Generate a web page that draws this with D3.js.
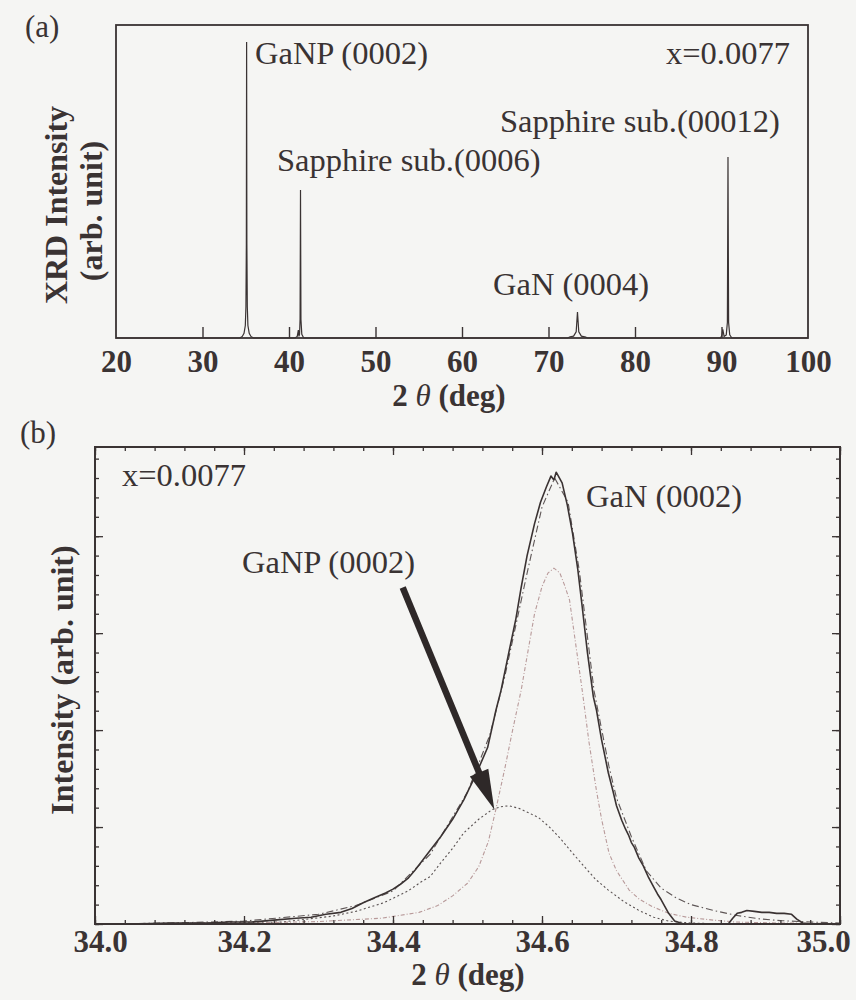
<!DOCTYPE html>
<html>
<head>
<meta charset="utf-8">
<script src="https://cdn.jsdelivr.net/npm/d3@7"></script>
<style>
  html, body { margin: 0; padding: 0; background: #f5f5f3; }
  svg { display: block; }
  text { font-family: "Liberation Serif", "Times New Roman", serif; fill: #3a3333; }
</style>
</head>
<body>
<svg id="fig" width="856" height="1000"></svg>
<script>
// ---------- (a) wide-range XRD scan, [2θ (deg), intensity (arb.)] ----------
const scanA = [
  [20, 0], [34.3, 0], [34.6, 0.005], [34.8, 0.015], [34.95, 0.04], [35.02, 0.10], [35.07, 0.30],
  [35.1, 0.946], [35.13, 0.30], [35.18, 0.10], [35.25, 0.04], [35.4, 0.015], [35.6, 0.005], [35.9, 0],
  [40.7, 0], [40.95, 0.005], [41.08, 0.025], [41.15, 0.005], [41.22, 0.012], [41.28, 0.06],
  [41.33, 0.473], [41.38, 0.06], [41.48, 0.012], [41.7, 0],
  [72.2, 0], [72.5, 0.004], [72.9, 0.006], [73.2, 0.02], [73.35, 0.083], [73.5, 0.02], [73.8, 0.006], [74.3, 0.003], [74.5, 0],
  [89.9, 0], [90.05, 0.01], [90.15, 0.028], [90.3, 0.005], [90.55, 0.01], [90.68, 0.05],
  [90.75, 0.578], [90.82, 0.05], [90.95, 0.01], [91.2, 0], [100, 0]
];
const ticksA = [20, 30, 40, 50, 60, 70, 80, 90, 100];
const domainA = [20, 100];

// ---------- (b) (0002) region: measured scan and fitted components ----------
const measuredB = [
  [34.00, 0.00], [34.05, 0.00], [34.10, 0.01], [34.15, 0.01], [34.18, 0.02], [34.21, 0.02], [34.24, 0.04],
  [34.27, 0.06], [34.29, 0.07], [34.31, 0.10], [34.33, 0.12], [34.345, 0.16], [34.36, 0.22], [34.375, 0.27],
  [34.39, 0.32], [34.40, 0.36], [34.41, 0.41], [34.42, 0.47], [34.43, 0.56], [34.44, 0.66], [34.45, 0.76],
  [34.464, 0.90], [34.48, 1.08], [34.495, 1.28], [34.51, 1.52], [34.527, 1.82], [34.538, 2.20], [34.545, 2.41],
  [34.556, 2.82], [34.565, 3.15], [34.572, 3.47], [34.58, 3.80], [34.59, 4.13], [34.598, 4.35], [34.606, 4.51],
  [34.612, 4.62], [34.616, 4.58], [34.619, 4.66], [34.622, 4.62], [34.627, 4.55], [34.634, 4.32], [34.641, 4.03],
  [34.648, 3.66], [34.654, 3.27], [34.661, 2.80], [34.669, 2.34], [34.673, 2.21], [34.68, 1.90], [34.689, 1.56],
  [34.695, 1.38], [34.70, 1.22], [34.707, 1.07], [34.712, 0.98], [34.716, 0.92], [34.72, 0.84], [34.724, 0.79],
  [34.73, 0.68], [34.736, 0.60], [34.743, 0.48], [34.75, 0.38], [34.755, 0.31], [34.76, 0.25], [34.765, 0.18],
  [34.77, 0.11], [34.778, 0.03], [34.79, 0.00], [34.85, 0.00], [34.856, 0.06], [34.862, 0.11], [34.868, 0.12],
  [34.875, 0.14], [34.885, 0.13], [34.895, 0.12], [34.905, 0.12], [34.915, 0.11], [34.925, 0.11], [34.935, 0.10],
  [34.942, 0.05], [34.95, 0.01], [34.96, 0.00], [35.00, 0.00]
];
const fitTotalB = [
  [34.00, 0.00], [34.10, 0.01], [34.20, 0.03], [34.30, 0.10], [34.35, 0.19], [34.40, 0.34], [34.45, 0.72],
  [34.50, 1.36], [34.53, 1.95], [34.55, 2.55], [34.58, 3.62], [34.60, 4.30], [34.617, 4.60], [34.635, 4.35],
  [34.65, 3.65], [34.67, 2.40], [34.69, 1.62], [34.70, 1.30], [34.72, 0.90], [34.74, 0.55], [34.76, 0.37],
  [34.78, 0.27], [34.80, 0.20], [34.83, 0.14], [34.86, 0.09], [34.89, 0.055], [34.92, 0.035], [34.96, 0.02],
  [35.00, 0.01]
];
const fitGaNB = [
  [34.00, 0.00], [34.20, 0.01], [34.30, 0.025], [34.385, 0.06], [34.435, 0.12], [34.46, 0.19], [34.48, 0.29],
  [34.50, 0.42], [34.515, 0.59], [34.528, 0.85], [34.538, 1.18], [34.55, 1.60], [34.56, 1.98], [34.572, 2.41],
  [34.582, 2.85], [34.59, 3.20], [34.60, 3.48], [34.608, 3.62], [34.616, 3.67], [34.624, 3.62], [34.63, 3.50],
  [34.637, 3.34], [34.645, 2.90], [34.654, 2.41], [34.663, 1.88], [34.673, 1.38], [34.68, 1.08], [34.69, 0.73],
  [34.70, 0.55], [34.717, 0.35], [34.73, 0.26], [34.748, 0.18], [34.77, 0.11], [34.794, 0.07], [34.83, 0.04],
  [34.86, 0.02], [34.92, 0.01], [35.00, 0.005]
];
const fitGaNPB = [
  [34.00, 0.00], [34.15, 0.01], [34.25, 0.02], [34.318, 0.08], [34.35, 0.13], [34.388, 0.22], [34.42, 0.34],
  [34.437, 0.43], [34.45, 0.49], [34.464, 0.63], [34.48, 0.78], [34.495, 0.94], [34.515, 1.08], [34.533, 1.18],
  [34.545, 1.21], [34.556, 1.22], [34.57, 1.19], [34.595, 1.10], [34.61, 1.00], [34.626, 0.87], [34.64, 0.74],
  [34.657, 0.59], [34.672, 0.46], [34.689, 0.35], [34.71, 0.23], [34.73, 0.14], [34.75, 0.07], [34.77, 0.03],
  [34.80, 0.01], [34.85, 0.00], [35.00, 0.00]
];
const ticksBX = [34.0, 34.2, 34.4, 34.6, 34.8, 35.0];
const domainBX = [34.0, 35.0];
const domainBY = [0, 4.92];
// arrow pointing at the GaNP component peak: [from, to] in (2θ, intensity)
const arrowGaNP = [[34.413, 3.47], [34.536, 1.18]];

const ink = "#3a3333";
const svg = d3.select("#fig");
const noteSize = 32.5;

// ================= panel (a) =================
const A = { left: 116, right: 808, top: 25, bottom: 338 };
const xA = d3.scaleLinear().domain(domainA).range([A.left, A.right]);
const yA = d3.scaleLinear().domain([0, 1]).range([A.bottom, A.top]);
const gA = svg.append("g");

gA.append("path")
  .datum(scanA)
  .attr("fill", "none").attr("stroke", ink).attr("stroke-width", 1.2)
  .attr("d", d3.line().x(d => xA(d[0])).y(d => yA(d[1])));

const axA = gA.append("g")
  .attr("transform", `translate(0,${A.bottom})`)
  .call(d3.axisBottom(xA).tickValues(ticksA).tickFormat(d3.format("d"))
    .tickSizeInner(-11).tickSizeOuter(0).tickPadding(12));
axA.select(".domain").remove();
axA.selectAll(".tick line").attr("stroke", ink).attr("stroke-width", 1.4);
axA.selectAll(".tick text").attr("font-size", 31).attr("font-weight", "bold")
  .attr("font-family", "Liberation Serif, serif").attr("fill", ink);
axA.selectAll(".tick").filter(d => d === domainA[0] || d === domainA[1]).select("line").remove();

gA.append("rect")
  .attr("x", A.left).attr("y", A.top).attr("width", A.right - A.left).attr("height", A.bottom - A.top)
  .attr("fill", "none").attr("stroke", ink).attr("stroke-width", 1.8);

gA.append("text").attr("x", 25).attr("y", 37).attr("font-size", 31).text("(a)");
gA.append("text").attr("x", 255).attr("y", 64).attr("font-size", noteSize).text("GaNP (0002)");
gA.append("text").attr("x", 790).attr("y", 64).attr("font-size", noteSize).attr("text-anchor", "end").text("x=0.0077");
gA.append("text").attr("x", 277).attr("y", 171).attr("font-size", noteSize).text("Sapphire sub.(0006)");
gA.append("text").attr("x", 500).attr("y", 132).attr("font-size", noteSize).text("Sapphire sub.(00012)");
gA.append("text").attr("x", 493).attr("y", 295).attr("font-size", noteSize).text("GaN (0004)");

gA.append("text").attr("transform", "translate(67,205) rotate(-90)")
  .attr("text-anchor", "middle").attr("font-size", 32).attr("font-weight", "bold").text("XRD Intensity");
gA.append("text").attr("transform", "translate(102,211) rotate(-90)")
  .attr("text-anchor", "middle").attr("font-size", 32).attr("font-weight", "bold").text("(arb. unit)");

function thetaLabel(g, x, y) {
  const t = g.append("text").attr("x", x).attr("y", y).attr("text-anchor", "middle")
    .attr("font-size", 31).attr("font-weight", "bold");
  t.append("tspan").text("2 ");
  t.append("tspan").attr("font-style", "italic").attr("font-weight", "normal").text("θ");
  t.append("tspan").text(" (deg)");
}
thetaLabel(gA, 449, 406);

// ================= panel (b) =================
const B = { left: 95, right: 840, top: 447, bottom: 924 };
const xB = d3.scaleLinear().domain(domainBX).range([B.left, B.right]);
const yB = d3.scaleLinear().domain(domainBY).range([B.bottom, B.top]);
const gB = svg.append("g");
const lineB = d3.line().x(d => xB(d[0])).y(d => yB(d[1]));

gB.append("path").datum(fitGaNPB)
  .attr("fill", "none").attr("stroke", "#5a5252").attr("stroke-width", 1.1)
  .attr("stroke-dasharray", "2,2.5").attr("d", lineB);
gB.append("path").datum(fitGaNB)
  .attr("fill", "none").attr("stroke", "#b89a9a").attr("stroke-width", 1.1)
  .attr("stroke-dasharray", "4,2,1,2").attr("d", lineB);
gB.append("path").datum(fitTotalB)
  .attr("fill", "none").attr("stroke", "#5e5656").attr("stroke-width", 1.1)
  .attr("stroke-dasharray", "7,3,1.5,3").attr("d", lineB);
gB.append("path").datum(measuredB)
  .attr("fill", "none").attr("stroke", "#3a3232").attr("stroke-width", 1.6)
  .attr("stroke-linejoin", "round").attr("d", lineB);

// frame ticks (inward) on all four sides
const minorX = d3.range(34.0, 35.0001, 0.04).map(v => +v.toFixed(2));
const majorY = [0, 1, 2, 3, 4];
const minorY = d3.range(0, 4.9, 0.2).map(v => +v.toFixed(1));

function styleAxis(sel) {
  sel.select(".domain").remove();
  sel.selectAll(".tick line").attr("stroke", ink).attr("stroke-width", 1.3);
}
// bottom: labels + major + minor
const axBx = gB.append("g").attr("transform", `translate(0,${B.bottom})`)
  .call(d3.axisBottom(xB).tickValues(ticksBX).tickFormat(d3.format(".1f"))
    .tickSizeInner(-8).tickSizeOuter(0).tickPadding(6));
styleAxis(axBx);
axBx.selectAll(".tick text").attr("font-size", 31).attr("font-weight", "bold")
  .attr("font-family", "Liberation Serif, serif").attr("fill", ink)
  .attr("dx", d => d === domainBX[0] ? 5 : d === domainBX[1] ? -17 : 0);
gB.append("g").attr("transform", `translate(0,${B.bottom})`)
  .call(d3.axisBottom(xB).tickValues(minorX).tickFormat("").tickSizeInner(-4).tickSizeOuter(0)).call(styleAxis);
// top
gB.append("g").attr("transform", `translate(0,${B.top})`)
  .call(d3.axisTop(xB).tickValues(ticksBX).tickFormat("").tickSizeInner(-8).tickSizeOuter(0)).call(styleAxis);
gB.append("g").attr("transform", `translate(0,${B.top})`)
  .call(d3.axisTop(xB).tickValues(minorX).tickFormat("").tickSizeInner(-4).tickSizeOuter(0)).call(styleAxis);
// left
gB.append("g").attr("transform", `translate(${B.left},0)`)
  .call(d3.axisLeft(yB).tickValues(majorY).tickFormat("").tickSizeInner(-8).tickSizeOuter(0)).call(styleAxis);
gB.append("g").attr("transform", `translate(${B.left},0)`)
  .call(d3.axisLeft(yB).tickValues(minorY).tickFormat("").tickSizeInner(-4).tickSizeOuter(0)).call(styleAxis);
// right
gB.append("g").attr("transform", `translate(${B.right},0)`)
  .call(d3.axisRight(yB).tickValues(majorY).tickFormat("").tickSizeInner(-8).tickSizeOuter(0)).call(styleAxis);
gB.append("g").attr("transform", `translate(${B.right},0)`)
  .call(d3.axisRight(yB).tickValues(minorY).tickFormat("").tickSizeInner(-4).tickSizeOuter(0)).call(styleAxis);

gB.append("rect")
  .attr("x", B.left).attr("y", B.top).attr("width", B.right - B.left).attr("height", B.bottom - B.top)
  .attr("fill", "none").attr("stroke", ink).attr("stroke-width", 2);

// arrow to the GaNP (0002) component
{
  const [p0, p1] = arrowGaNP.map(d => [xB(d[0]), yB(d[1])]);
  const dx = p1[0] - p0[0], dy = p1[1] - p0[1];
  const len = Math.hypot(dx, dy), ux = dx / len, uy = dy / len;
  const headLen = 40, headHalf = 10;
  const base = [p1[0] - ux * headLen, p1[1] - uy * headLen];
  gB.append("line")
    .attr("x1", p0[0]).attr("y1", p0[1]).attr("x2", base[0] + ux * 4).attr("y2", base[1] + uy * 4)
    .attr("stroke", "#2e2828").attr("stroke-width", 6.5);
  gB.append("path")
    .attr("d", `M${p1[0]},${p1[1]} L${base[0] - uy * headHalf},${base[1] + ux * headHalf} ` +
               `L${base[0] + uy * headHalf},${base[1] - ux * headHalf} Z`)
    .attr("fill", "#2e2828");
}

gB.append("text").attr("x", 20).attr("y", 443).attr("font-size", 31).text("(b)");
gB.append("text").attr("x", 122).attr("y", 486).attr("font-size", noteSize).text("x=0.0077");
gB.append("text").attr("x", 242).attr("y", 573).attr("font-size", noteSize).text("GaNP (0002)");
gB.append("text").attr("x", 586).attr("y", 507).attr("font-size", noteSize).text("GaN (0002)");

gB.append("text").attr("transform", "translate(73,680) rotate(-90)")
  .attr("text-anchor", "middle").attr("font-size", 32).attr("font-weight", "bold").text("Intensity (arb. unit)");
thetaLabel(gB, 468, 985);
</script>
</body>
</html>
